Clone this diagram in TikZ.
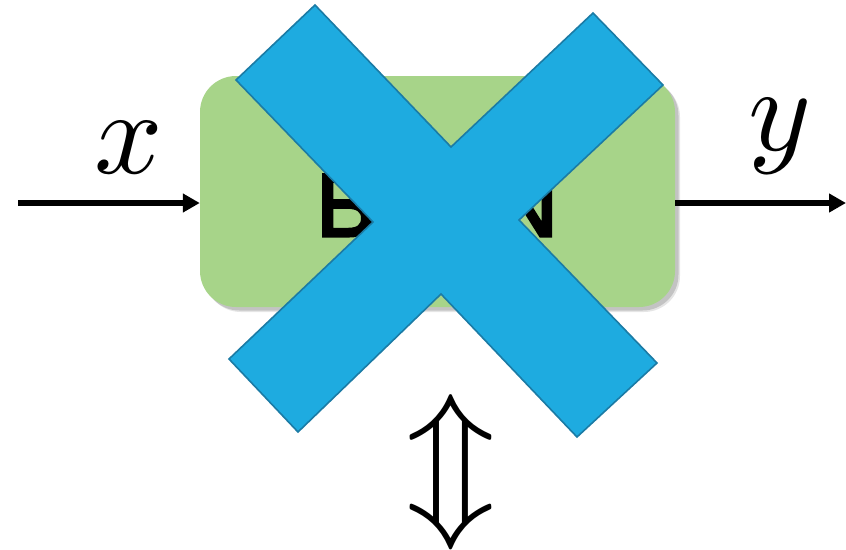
\documentclass[tikz,border=0pt]{standalone}
\usepackage{fontspec}
\newfontfamily\bnfont[FakeBold=3.5]{Liberation Sans}
\usetikzlibrary{arrows.meta,shadows}
\definecolor{bngreen}{HTML}{A7D489}
\definecolor{xblue}{HTML}{1EABE0}
\definecolor{xedge}{HTML}{1B7BA5}
\tikzset{
  box/.style={rectangle, rounded corners=36pt, fill=bngreen, draw=none,
    minimum width=475pt, minimum height=231pt, inner sep=0pt,
    general shadow={shadow xshift=5pt, shadow yshift=-5pt, fill=black, opacity=0.10},
    general shadow={shadow xshift=3.5pt, shadow yshift=-3.5pt, fill=black, opacity=0.15}},
  flow/.style={line width=6pt, -{Triangle[length=17pt,width=18pt]}},
  mathlbl/.style={inner sep=0pt, scale=12},
  cross/.style={fill=xblue, draw=xedge, line width=1.6pt, line join=miter}
}
\begin{document}
\begin{tikzpicture}[x=1pt,y=-1pt]
\useasboundingbox (0,0) rectangle (846,549);
\node[box] (bn) at (437.5,191.5) {};
\node[anchor=base, inner sep=0pt] (bntext) at (437.1,236)
  {\bnfont\fontsize{89}{89}\selectfont B\kern118pt N};
\coordinate (in) at (18,203);
\coordinate (out) at (846,203);
\draw[flow] (in) -- (in -| bn.west);
\draw[flow] (bn.east |- out) -- (out);
\node[mathlbl] (xl) at (129,148) {$x$};
\node[mathlbl] (yl) at (780,136) {$y$};
\node[inner sep=0pt, scale=14.9] (ud) at (451,472) {$\Updownarrow$};
\draw[cross] (315,5) -- (451,147) -- (593,13) -- (663,85) -- (519,220)
  -- (657,363) -- (577,437) -- (441,294) -- (298,432) -- (229,359)
  -- (373,222) -- (236,80) -- cycle;
\end{tikzpicture}
\end{document}
